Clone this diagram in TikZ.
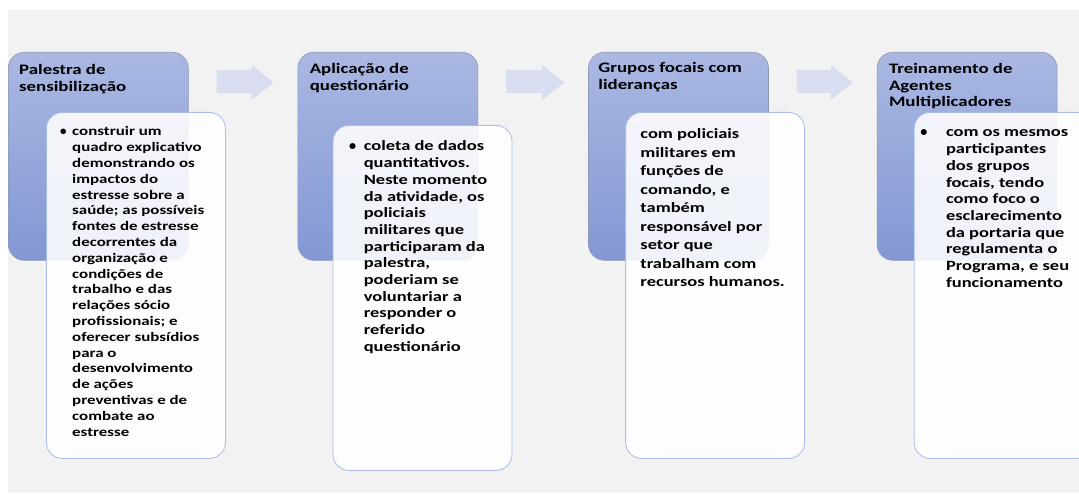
\documentclass[tikz,border=0pt]{standalone}
\usepackage{fontspec}
\setmainfont{Carlito}[FakeStretch=1.3]
\newfontfamily\bulletfont{Carlito}
\usetikzlibrary{positioning, calc}
\definecolor{panelgray}{HTML}{F2F2F2}
\definecolor{stagetop}{HTML}{AAB8E2}
\definecolor{stagebottom}{HTML}{8297D4}
\definecolor{stageline}{HTML}{8E97B4}
\definecolor{detailline}{HTML}{A9BCE8}
\definecolor{arrowfill}{HTML}{D8DDF0}
\newcommand{\bul}[1]{\makebox[0pt][r]{{\bulletfont\textbullet}\hspace{#1}}}
\newcommand{\stacklines}[1]{\begin{tabular}[t]{@{}l@{}}#1\end{tabular}}
\newcommand{\stagearrow}[2]{%
  \fill[arrowfill] ($(#1.north east)+(28pt,-18pt)$) -- ($(#2.north west)+(-46pt,-18pt)$)
    -- ($(#2.north west)+(-46pt,-13pt)$) -- ($(#2.north west)+(-24pt,-30.5pt)$)
    -- ($(#2.north west)+(-46pt,-48pt)$) -- ($(#2.north west)+(-46pt,-41pt)$)
    -- ($(#1.north east)+(28pt,-41pt)$) -- cycle;}
\tikzset{
  stage/.style={draw=stageline, line width=0.6pt, rounded corners=16pt,
    top color=stagetop, bottom color=stagebottom,
    minimum width=180pt, minimum height=208pt, anchor=north west, inner sep=0pt},
  detail/.style={draw=detailline, line width=0.8pt, rounded corners=16pt,
    fill=white, fill opacity=0.88, minimum width=179pt, minimum height=346pt,
    anchor=north west, inner sep=0pt},
  stagetitle/.style={anchor=base west, inner sep=0pt,
    font=\bfseries\fontsize{14.5}{16.5}\selectfont},
  detailtext/.style={anchor=base west, inner sep=0pt}
}
\begin{document}
\begin{tikzpicture}[x=1pt, y=1pt]
  \useasboundingbox (0,0) rectangle (1079,493);
  % Background panel
  \fill[panelgray] (8,0) rectangle (1079,483);

  % Stage boxes
  \node[stage] (s1) at (8,441) {};
  \node[stage, right=109pt of s1] (s2) {};
  \node[stage, right=110pt of s2] (s3) {};
  \node[stage, right=108pt of s3] (s4) {};

  % Block arrows
  \stagearrow{s1}{s2}
  \stagearrow{s2}{s3}
  \stagearrow{s3}{s4}

  % Detail boxes
  \node[detail] (d1) at ($(s1.north west)+(38,-60)$) {};
  \node[detail, minimum height=345pt] (d2) at ($(s2.north west)+(35,-73)$) {};
  \node[detail] (d3) at ($(s3.north west)+(37,-60)$) {};
  \node[detail] (d4) at ($(s4.north west)+(37,-60)$) {};

  % Titles
  \node[stagetitle] (t1) at ($(s1.north west)+(11,-23)$)
    {\stacklines{Palestra de\\sensibilização}};
  \node[stagetitle] (t2) at ($(s2.north west)+(12,-22)$)
    {\stacklines{Aplicação de\\questionário}};
  \node[stagetitle] (t3) at ($(s3.north west)+(10,-21)$)
    {\stacklines{Grupos focais com\\lideranças}};
  \node[stagetitle] (t4) at ($(s4.north west)+(12,-22)$)
    {\stacklines{Treinamento de\\Agentes\\Multiplicadores}};

  % Detail texts
  \node[detailtext, font=\bfseries\fontsize{13}{15.8}\selectfont] (b1)
    at ($(d1.north west)+(26,-24)$)
    {\stacklines{\bul{5.5pt}construir um\\quadro explicativo\\demonstrando os\\impactos do\\
     estresse sobre a\\saúde; as possíveis\\fontes de estresse\\decorrentes da\\
     organização e\\condições de\\trabalho e das\\relações sócio\\
     profissionais; e\\oferecer subsídios\\para o\\desenvolvimento\\de ações\\
     preventivas e de\\combate ao\\estresse}};
  \node[detailtext, font=\bfseries\fontsize{14.2}{16.7}\selectfont] (b2)
    at ($(d2.north west)+(31,-26)$)
    {\stacklines{\bul{7.5pt}coleta de dados\\quantitativos.\\Neste momento\\da atividade, os\\
     policiais\\militares que\\participaram da\\palestra,\\poderiam se\\
     voluntariar a\\responder o\\referido\\questionário}};
  \node[detailtext, font=\bfseries\fontsize{14.2}{18.5}\selectfont] (b3)
    at ($(d3.north west)+(15,-27)$)
    {\stacklines{com policiais\\militares em\\funções de\\comando, e\\também\\
     responsável por\\setor que\\trabalham com\\recursos humanos.}};
  \node[detailtext, font=\bfseries\fontsize{14.2}{16.7}\selectfont] (b4)
    at ($(d4.north west)+(32,-25)$)
    {\stacklines{\bul{18.5pt}com os mesmos\\participantes\\dos grupos\\focais, tendo\\
     como foco o\\esclarecimento\\da portaria que\\regulamenta o\\
     Programa, e seu\\funcionamento}};
\end{tikzpicture}
\end{document}
